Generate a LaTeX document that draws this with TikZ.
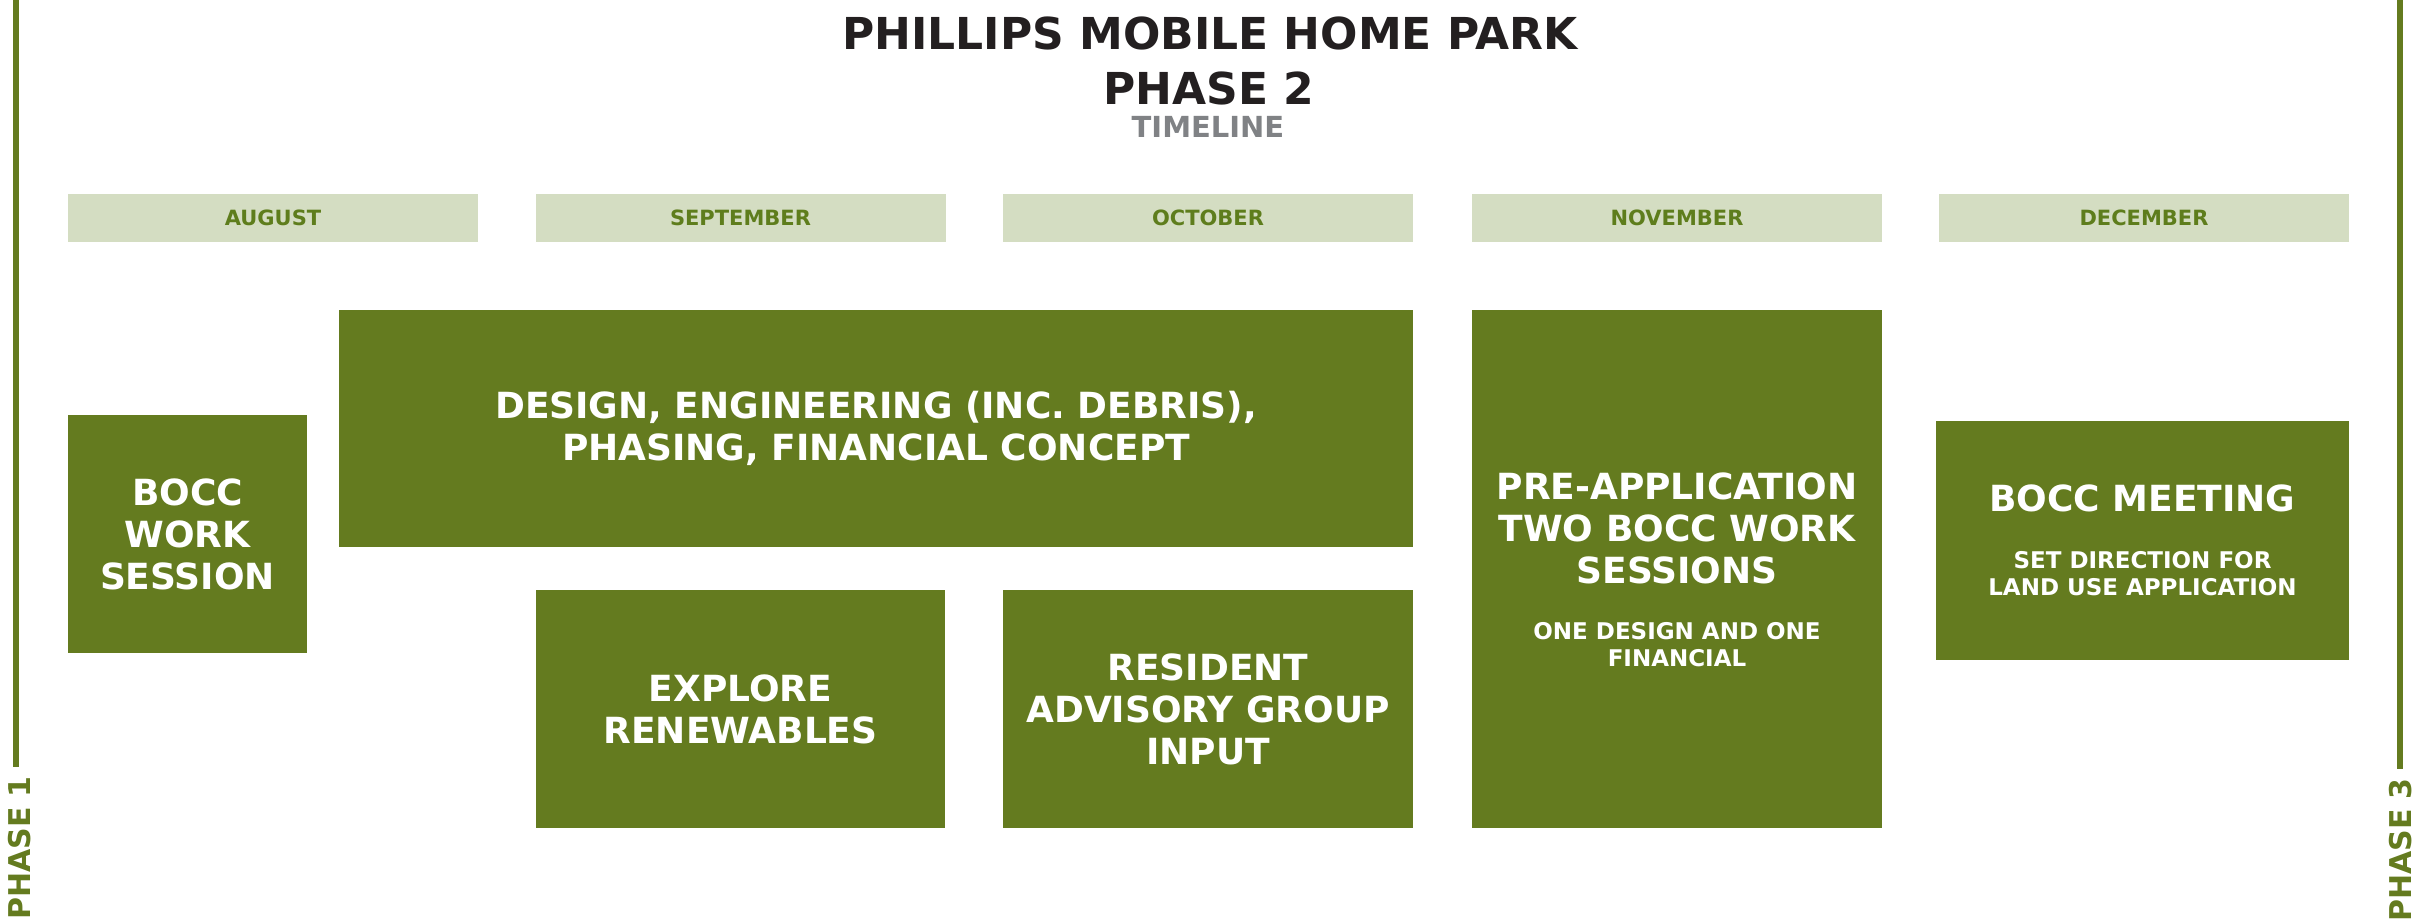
\documentclass[tikz,border=0pt]{standalone}
\usepackage{fontspec}
\setmainfont{DejaVu Sans}
\definecolor{parkgreen}{HTML}{647B1F}
\definecolor{monthbg}{HTML}{D4DDC2}
\definecolor{monthtext}{HTML}{5E7D1C}
\definecolor{titleink}{HTML}{231F20}
\definecolor{subink}{HTML}{808285}
\begin{document}
\begin{tikzpicture}[x=1pt,y=-1pt,
  gbox/.style={fill=parkgreen, draw=none, text=white, inner sep=0pt, align=center,
    font=\bfseries\fontsize{36}{42}\selectfont},
  boxtext/.style={text=white, inner sep=0pt, align=center,
    font=\bfseries\fontsize{36}{42}\selectfont},
  smalltext/.style={text=white, inner sep=0pt, align=center,
    font=\bfseries\fontsize{23}{27}\selectfont},
  monthbar/.style={fill=monthbg, draw=none, text=monthtext, inner sep=0pt,
    minimum width=410pt, minimum height=48pt,
    font=\bfseries\fontsize{21}{25}\selectfont},
  titletext/.style={text=titleink, inner sep=0pt, font=\bfseries\fontsize{44}{53}\selectfont},
  subtitle/.style={text=subink, inner sep=0pt, font=\bfseries\fontsize{29}{34}\selectfont},
  phaseline/.style={draw=parkgreen, line width=6pt},
  phaselabel/.style={text=parkgreen, rotate=90, inner ysep=0pt, inner xsep=9pt,
    font=\bfseries\fontsize{30}{34}\selectfont}]
\useasboundingbox (0,0) rectangle (2417,920);

% heading
\node[titletext] (title) at (1210,33) {PHILLIPS MOBILE HOME PARK};
\node[titletext] (phase) at (1209,88) {PHASE 2};
\node[subtitle] (timeline) at (1208,127) {TIMELINE};

% month headers
\node[monthbar] (aug) at (273,218) {AUGUST};
\node[monthbar] (sep) at (740.5,218) {SEPTEMBER};
\node[monthbar] (oct) at (1208,218) {OCTOBER};
\node[monthbar] (nov) at (1677,218) {NOVEMBER};
\node[monthbar] (dec) at (2144,218) {DECEMBER};

% activity blocks
\node[gbox, minimum width=239pt, minimum height=238pt] (bocc) at (187.5,534)
  {BOCC\\WORK\\SESSION};
\node[gbox, minimum width=1074pt, minimum height=237pt] (design) at (876,428.5)
  {DESIGN, ENGINEERING (INC. DEBRIS),\\PHASING, FINANCIAL CONCEPT};
\node[gbox, minimum width=409pt, minimum height=238pt] (explore) at (740.5,709)
  {EXPLORE\\RENEWABLES};
\node[gbox, minimum width=410pt, minimum height=238pt] (resident) at (1208,709)
  {RESIDENT\\ADVISORY GROUP\\INPUT};
\node[gbox, minimum width=410pt, minimum height=518pt] (preapp) at (1677,569) {};
\node[boxtext] (preapphead) at (1677,528) {PRE-APPLICATION\\TWO BOCC WORK\\SESSIONS};
\node[smalltext] (preappnote) at (1677,645) {ONE DESIGN AND ONE\\FINANCIAL};
\node[gbox, minimum width=413pt, minimum height=239pt] (meeting) at (2142.5,540.5) {};
\node[boxtext] (meetinghead) at (2142.5,498) {BOCC MEETING};
\node[smalltext] (meetingnote) at (2142.5,574) {SET DIRECTION FOR\\LAND USE APPLICATION};

% phase markers
\coordinate (p1top) at (16,0);
\node[phaselabel] (p1) at (20,848) {PHASE 1};
\draw[phaseline] (p1top) -- (p1top |- p1.east);
\coordinate (p3top) at (2400,0);
\node[phaselabel] (p3) at (2401,850) {PHASE 3};
\draw[phaseline] (p3top) -- (p3top |- p3.east);
\end{tikzpicture}
\end{document}
